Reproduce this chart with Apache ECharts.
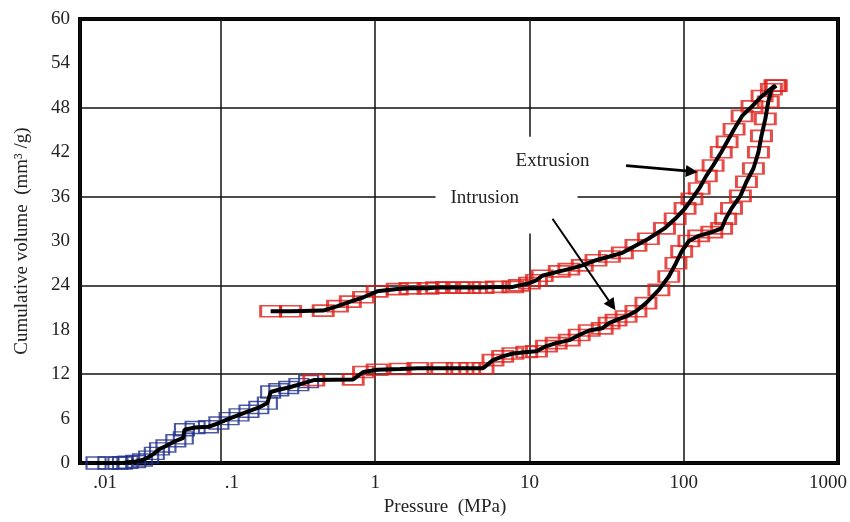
<!DOCTYPE html>
<html>
<head>
<meta charset="utf-8">
<title>Cumulative volume vs pressure</title>
<script src="https://cdn.jsdelivr.net/npm/echarts@6/dist/echarts.min.js"></script>
<style>
  html, body { margin: 0; padding: 0; background: #fff; }
  #main { width: 850px; height: 522px; }
</style>
</head>
<body>
<div id="main"></div>
<script>
// pressure in MPa, cumulative volume in mm3/g
const intrusionPressure = [
  0.0155, 0.0185, 0.0215, 0.023, 0.025, 0.028, 0.031, 0.034, 0.037, 0.040,
  0.044, 0.051, 0.057, 0.058, 0.068, 0.083, 0.097, 0.113, 0.131, 0.152,
  0.176, 0.20, 0.21, 0.237, 0.275, 0.32, 0.37,
  0.40, 0.72, 0.84, 1.03, 1.45, 1.89, 2.7, 3.4, 4.1, 5.0,
  5.8, 6.7, 7.8, 9.6, 11.1, 12.9, 14.9, 18.1, 21, 24.4,
  29.6, 32.8, 36.4, 42.3, 49, 56.9, 69, 80, 89, 97,
  108, 125, 152, 176, 187, 204, 233, 255, 283, 305,
  319, 338, 353, 370, 398
]
const intrusionVolume = [
  0, 0, 0, 0, 0.1, 0.2, 0.4, 0.8, 1.3, 1.9,
  2.3, 3.0, 3.4, 4.5, 4.8, 4.9, 5.4, 6.0, 6.5, 7.0,
  7.5, 8.1, 9.6, 9.9, 10.2, 10.6, 11.0,
  11.2, 11.3, 12.3, 12.6, 12.7, 12.8, 12.8, 12.8, 12.8, 12.8,
  13.9, 14.4, 14.8, 15.0, 15.1, 15.8, 16.2, 16.6, 17.3, 17.9,
  18.2, 18.9, 19.3, 19.8, 20.5, 21.6, 23.4, 25.2, 27.0, 28.6,
  30.0, 30.7, 31.2, 31.7, 33.0, 34.4, 36.1, 38.0, 39.8, 42.0,
  44.2, 46.5, 48.8, 50.5, 51.0
]
const extrusionPressure = [
  390, 322, 277, 239, 212, 191, 175, 155, 140, 126,
  113, 102, 88, 75, 59, 49, 40, 33, 27, 22,
  18, 15.6, 12.1, 11.1, 10, 8.6, 7.8, 6.1, 5.0, 4.1,
  3.5, 2.9, 2.5, 2.2, 1.68, 1.39, 1.03, 0.84, 0.69, 0.57,
  0.46, 0.283, 0.21
]
const extrusionVolume = [
  51.0, 49.6, 48.2, 46.9, 45.1, 43.4, 42.0, 40.2, 38.8, 37.1,
  35.7, 34.4, 33.0, 31.7, 30.3, 29.4, 28.4, 27.9, 27.4, 26.7,
  26.2, 25.9, 25.3, 24.7, 24.3, 24.0, 23.8, 23.8, 23.7, 23.7,
  23.7, 23.7, 23.7, 23.6, 23.6, 23.5, 23.2, 22.4, 21.8, 21.2,
  20.6, 20.5, 20.5
]
// markers are blue up to this pressure, red above
const blueLimit = 0.37

const xTickLabels = ['.01', '.1', '1', '10', '100', '1000']

// annotations, in data units [MPa, mm3/g]
const notes = [
  { name: 'Extrusion', at: [14.1, 40.8] },
  { name: 'Intrusion', at: [5.13, 35.8] }
]
const arrows = [
  { from: [42.3, 40.2], to: [112.7, 39.4], width: 2.8 },
  { from: [14.1, 33.0], to: [34.3, 21.3], width: 2 }
]
const labelBox = [[2.46, 31], [20.5, 44.1]]

const font = 'Liberation Serif'
const zip = (xs, ys) => xs.map((x, i) => [x, ys[i]])
const intrusion = zip(intrusionPressure, intrusionVolume)
const extrusion = zip(extrusionPressure, extrusionVolume)

const boxStyle = (color, width) => ({
  color: 'rgba(0,0,0,0)',
  borderColor: color,
  borderWidth: width
})

const chart = echarts.init(document.getElementById('main'))

const option = {
  animation: false,
  grid: {
    left: 80,
    right: 11,
    top: 19,
    bottom: 57,
    show: true,
    borderColor: '#000',
    borderWidth: 4
  },
  xAxis: {
    type: 'log',
    logBase: 10,
    min: 0.0122,
    max: 1000,
    name: 'Pressure  (MPa)',
    nameLocation: 'middle',
    nameGap: 35,
    nameTextStyle: { fontFamily: font, fontSize: 19, color: '#222', padding: [0, 28, 0, 0] },
    axisLine: { show: false },
    axisTick: { show: false },
    axisLabel: {
      margin: 11,
      showMinLabel: true,
      showMaxLabel: true,
      fontFamily: font,
      fontSize: 19,
      color: '#222',
      formatter: (value, index) => {
        const text = xTickLabels[index]
        if (index === 0) return '{first|' + text + '}'
        if (index === 1) return '{dot|' + text + '}'
        if (index === xTickLabels.length - 1) return '{last|' + text + '}'
        return text
      },
      rich: {
        first: { fontFamily: font, fontSize: 19, color: '#222', padding: [0, 0, 0, 50] },
        dot: { fontFamily: font, fontSize: 19, color: '#222', padding: [0, 0, 0, 22] },
        last: { fontFamily: font, fontSize: 19, color: '#222', padding: [0, 20, 0, 0] }
      }
    },
    splitLine: { show: true, lineStyle: { color: '#111', width: 1.5 } }
  },
  yAxis: [
    {
      type: 'value',
      min: 0,
      max: 60,
      interval: 6,
      name: 'Cumulative volume  (mm³ /g)',
      nameLocation: 'middle',
      nameGap: 48,
      nameTextStyle: { fontFamily: font, fontSize: 19, color: '#222' },
      axisLine: { show: false },
      axisTick: { show: false },
      axisLabel: { margin: 10, fontFamily: font, fontSize: 19, color: '#222' },
      splitLine: { show: false }
    },
    {
      // only every other value gets a grid line
      type: 'value',
      min: 0,
      max: 60,
      interval: 12,
      position: 'left',
      axisLine: { show: false },
      axisTick: { show: false },
      axisLabel: { show: false },
      splitLine: { show: true, lineStyle: { color: '#111', width: 1.5 } }
    }
  ],
  series: [
    {
      name: 'Intrusion',
      type: 'line',
      data: intrusion,
      showSymbol: false,
      silent: true,
      lineStyle: { color: '#000', width: 4 },
      markArea: {
        silent: true,
        itemStyle: { color: '#fff', opacity: 1 },
        data: [[{ coord: labelBox[0] }, { coord: labelBox[1] }]]
      },
      markLine: {
        silent: true,
        symbol: ['none', 'triangle'],
        symbolSize: 12,
        label: { show: false },
        lineStyle: { color: '#000', type: 'solid' },
        data: arrows.map(a => [
          { coord: a.from, lineStyle: { width: a.width } },
          { coord: a.to }
        ])
      },
      markPoint: {
        silent: true,
        symbol: 'rect',
        symbolSize: 1,
        itemStyle: { color: 'rgba(0,0,0,0)' },
        label: {
          show: true,
          position: 'inside',
          formatter: '{b}',
          fontFamily: font,
          fontSize: 19,
          color: '#222'
        },
        data: notes.map(n => ({ name: n.name, coord: n.at }))
      }
    },
    {
      name: 'Extrusion',
      type: 'line',
      data: extrusion,
      showSymbol: false,
      silent: true,
      lineStyle: { color: '#000', width: 4 }
    },
    {
      type: 'scatter',
      silent: true,
      symbol: 'rect',
      symbolSize: [19, 12],
      itemStyle: boxStyle('#1f2f8a', 1.7),
      data: intrusion.filter(d => d[0] <= blueLimit)
    },
    {
      type: 'scatter',
      silent: true,
      symbol: 'rect',
      symbolSize: [20, 11],
      itemStyle: boxStyle('#df1f1a', 2.2),
      data: intrusion.filter(d => d[0] > blueLimit).concat(extrusion)
    }
  ]
}

chart.setOption(option)
</script>
</body>
</html>
